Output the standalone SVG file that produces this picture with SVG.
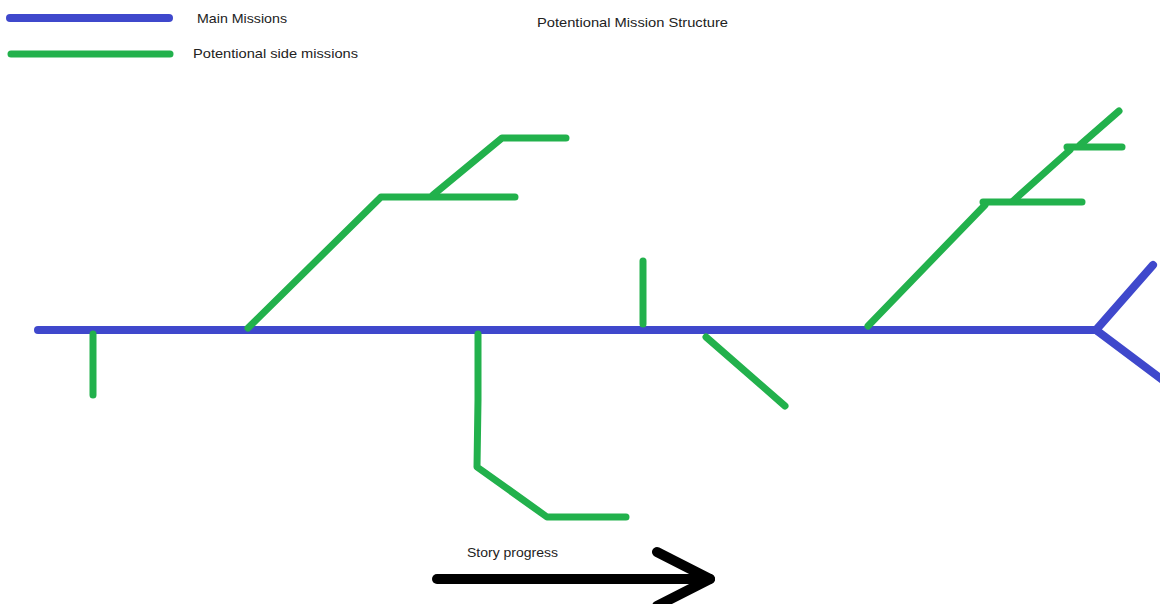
<svg xmlns="http://www.w3.org/2000/svg" width="1160" height="604" viewBox="0 0 1160 604">
<style>
.main{stroke:#3f48cc;stroke-width:8;fill:none;stroke-linecap:round;stroke-linejoin:round}
.side{stroke:#22b14c;stroke-width:7;fill:none;stroke-linecap:round;stroke-linejoin:round}
.arrow{stroke:#000;stroke-width:10;fill:none;stroke-linecap:round;stroke-linejoin:round}
text{font-family:"Liberation Sans","DejaVu Sans",sans-serif;font-size:13px;fill:#222}
</style>
<rect width="1160" height="604" fill="#fff"/>
<g id="legend">
<line class="main" x1="10" y1="18" x2="169" y2="18"/>
<line class="side" x1="11" y1="54" x2="170" y2="54"/>
<text x="197" y="23" textLength="90" lengthAdjust="spacingAndGlyphs">Main Missions</text>
<text x="193" y="58" textLength="165" lengthAdjust="spacingAndGlyphs">Potentional side missions</text>
</g>
<text id="title" x="537" y="27" textLength="191" lengthAdjust="spacingAndGlyphs">Potentional Mission Structure</text>
<g id="connectors">
<g id="main-line">
<polyline class="main" points="38,330 1096,330"/>
<polyline class="main" points="1096,330 1153,265"/>
<polyline class="main" points="1096,330 1168,384"/>
</g>
<g id="side-1">
<polyline class="side" points="93,334 93,395"/>
</g>
<g id="side-2">
<polyline class="side" points="248,328 381,197 515,197"/>
<polyline class="side" points="433,195 502,138 566,138"/>
</g>
<g id="side-3">
<polyline class="side" points="478,334 478,400 477,467 547,517 626,517"/>
</g>
<g id="side-4">
<polyline class="side" points="643,261 643,324"/>
</g>
<g id="side-5">
<polyline class="side" points="706,337 785,406"/>
</g>
<g id="side-6">
<polyline class="side" points="868,326 985,205"/>
<polyline class="side" points="983,202 1082,202"/>
<polyline class="side" points="1013,201 1070,150"/>
<polyline class="side" points="1080,145 1119,111"/>
<polyline class="side" points="1067,147 1122,147"/>
</g>
</g>
<g id="story-progress">
<text x="467" y="557" textLength="91" lengthAdjust="spacingAndGlyphs">Story progress</text>
<polyline class="arrow" points="437,579 710,579"/>
<polyline class="arrow" points="657,552 710,579 657,606"/>
</g>
</svg>
